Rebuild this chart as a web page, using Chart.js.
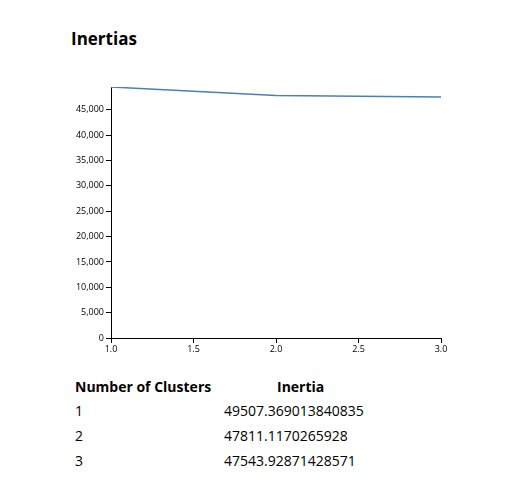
<!DOCTYPE html>
<html>
<head>
<meta charset="utf-8">
<script src="https://cdn.jsdelivr.net/npm/chart.js@4"></script>
<style>
  body { margin:0; background:#fff; font-family:"Open Sans", "Noto Sans", sans-serif; color:#000; }
  #wrap { position:relative; width:523px; height:503px; }
  h3 { position:absolute; left:71px; top:27px; margin:0; font-size:17px; font-weight:bold; }
  #chartBox { position:absolute; left:0; top:0; width:523px; height:360px; }
  table { position:absolute; left:72px; top:374px; border-collapse:collapse; font-size:14px; }
  th { font-weight:bold; text-align:left; padding:0 3px; height:24px; }
  td { padding:0 3px; height:25px; }
</style>
</head>
<body>
<div id="wrap">
  <h3>Inertias</h3>
  <div id="chartBox"><canvas id="lineChart"></canvas></div>
  <table id="tbl">
    <thead><tr><th style="width:146px">Number of Clusters</th><th style="padding-left:53px">Inertia</th></tr></thead>
    <tbody></tbody>
  </table>
</div>
<script>
var clusters = [1, 2, 3];
var inertias = [49507.369013840835, 47811.1170265928, 47543.92871428571];
var yTicks = [0, 5000, 10000, 15000, 20000, 25000, 30000, 35000, 40000, 45000];
var xTicks = [1.0, 1.5, 2.0, 2.5, 3.0];

$tbody = document.querySelector('#tbl tbody');
clusters.forEach(function (c, i) {
    var tr = document.createElement('tr');
    tr.innerHTML = '<td>' + c + '</td><td style="padding-left:0">' + inertias[i] + '</td>';
    $tbody.appendChild(tr);
});

var tickFont = { family: 'Open Sans, sans-serif', size: 9 };
var lineChart = new Chart(document.getElementById('lineChart').getContext('2d'), {
    type: 'line',
    data: {
        datasets: [{
            data: clusters.map(function (c, i) { return { x: c, y: inertias[i] }; }),
            borderColor: '#4682b4',
            borderWidth: 1.5,
            pointRadius: 0,
            tension: 0,
            fill: false
        }]
    },
    options: {
        responsive: true,
        maintainAspectRatio: false,
        animation: false,
        layout: { padding: { left: 0, top: 87, right: 82, bottom: 0 } },
        plugins: { legend: { display: false }, tooltip: { enabled: false } },
        scales: {
            x: {
                type: 'linear', min: 1, max: 3,
                afterBuildTicks: function (s) { s.ticks = xTicks.map(function (v) { return { value: v }; }); },
                afterFit: function (s) { s.height = 22; },
                ticks: { color: '#000', font: tickFont, padding: 1, maxRotation: 0,
                    callback: function (v) { return Number(v).toFixed(1); } },
                grid: { drawOnChartArea: false, drawTicks: true, tickLength: 5, color: '#000' },
                border: { color: '#000' }
            },
            y: {
                min: 0, max: inertias[0],
                afterBuildTicks: function (s) { s.ticks = yTicks.map(function (v) { return { value: v }; }); },
                afterFit: function (s) { s.width = 111; },
                ticks: { color: '#000', font: tickFont, padding: 2,
                    callback: function (v) { return v.toLocaleString('en-US'); } },
                grid: { drawOnChartArea: false, drawTicks: true, tickLength: 5, color: '#000' },
                border: { color: '#000' }
            }
        }
    }
});
</script>
</body>
</html>
